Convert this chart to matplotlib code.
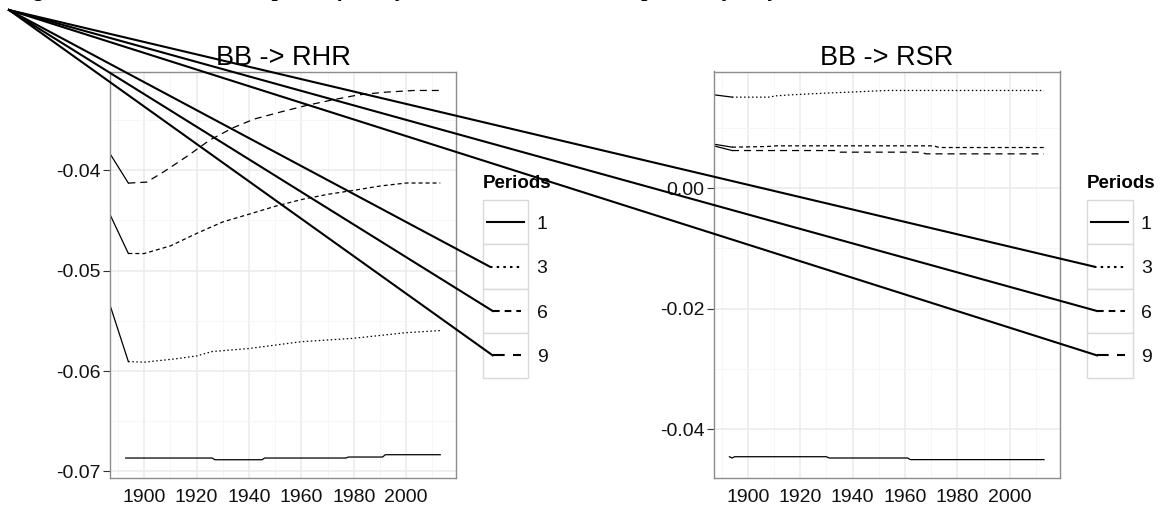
import matplotlib
matplotlib.use("Agg")
import matplotlib.pyplot as plt
from matplotlib.lines import Line2D
from matplotlib.patches import Rectangle
from matplotlib.ticker import MultipleLocator, FormatStrFormatter

plt.rcParams['font.family'] = ['Liberation Sans', 'DejaVu Sans']
plt.rcParams['axes.unicode_minus'] = False

# BB -> RHR
rhr_p1_years = [1893, 1926, 1927, 1945, 1946, 1977, 1978, 1991, 1992, 2013]
rhr_p1 = [-0.06867, -0.06867, -0.06884, -0.06884, -0.06867, -0.06867, -0.06857, -0.06857, -0.06834, -0.06834]
rhr_p3_years = [1887, 1894, 1900, 1912, 1920, 1926, 1940, 1960, 1980, 2000, 2013]
rhr_p3 = [-0.05343, -0.05906, -0.05912, -0.05879, -0.0585, -0.05806, -0.05776, -0.05708, -0.05674, -0.05618, -0.05597]
rhr_p6_years = [1887, 1894, 1900, 1910, 1920, 1930, 1940, 1950, 1960, 1970, 1980, 1990, 2000, 2013]
rhr_p6 = [-0.04441, -0.04829, -0.0483, -0.04754, -0.0463, -0.04515, -0.04438, -0.04359, -0.04292, -0.0424, -0.042, -0.04157, -0.04127, -0.04127]
rhr_p9_years = [1887, 1894, 1901, 1908, 1917, 1925, 1934, 1942, 1952, 1962, 1972, 1982, 1992, 2003, 2013]
rhr_p9 = [-0.03835, -0.04128, -0.04118, -0.04007, -0.0385, -0.037, -0.03576, -0.0349, -0.0342, -0.03354, -0.03298, -0.03248, -0.03222, -0.03205, -0.03205]

# BB -> RSR
rsr_p1_years = [1893, 1894, 1895, 1930, 1931, 1961, 1962, 2013]
rsr_p1 = [-0.04455, -0.04476, -0.04455, -0.04455, -0.04476, -0.04476, -0.04503, -0.04503]
rsr_p3_years = [1887, 1894, 1908, 1911, 1917, 1930, 1939, 1953, 2013]
rsr_p3 = [0.01549, 0.0151, 0.0151, 0.01532, 0.01549, 0.01577, 0.01593, 0.0162, 0.0162]
rsr_p6_years = [1887, 1894, 1907, 1911, 1971, 1973, 2013]
rsr_p6 = [0.0073, 0.0068, 0.0069, 0.00702, 0.00702, 0.00674, 0.00674]
rsr_p9_years = [1887, 1894, 1933, 1935, 1966, 1968, 2013]
rsr_p9 = [0.00702, 0.00624, 0.00624, 0.00597, 0.00597, 0.00569, 0.00569]

periods = ["1", "3", "6", "9"]
dash_styles = [None, (1.2, 2.0), (3.2, 2.4), (5.6, 4.0)]

W, H = 1166, 518
fig = plt.figure(figsize=(W / 100, H / 100), dpi=100)


def fx(px):
    return px / W


def fy(py):
    return 1 - py / H


def panel(left, title, series, ylim, major, minor):
    ax = fig.add_axes([fx(left), fy(477.7), fx(346), (477.7 - 71.5) / H])
    ax.set_xlim(1887, 2019)
    ax.set_ylim(*ylim)
    ax.xaxis.set_major_locator(MultipleLocator(20))
    ax.xaxis.set_minor_locator(MultipleLocator(10))
    ax.yaxis.set_major_locator(MultipleLocator(major))
    ax.yaxis.set_minor_locator(MultipleLocator(minor))
    ax.yaxis.set_major_formatter(FormatStrFormatter('%.2f'))
    ax.grid(which='major', color='#EBEBEB', lw=1.1)
    ax.grid(which='minor', color='#F6F6F6', lw=0.7)
    ax.set_axisbelow(True)
    for s in ax.spines.values():
        s.set_color('#8C8C8C')
        s.set_linewidth(1.0)
    ax.tick_params(axis='y', which='major', length=5, width=0.8, color='#333333',
                   labelsize=14, labelcolor='#111111', pad=1.5)
    ax.tick_params(axis='x', which='major', length=0, labelsize=14,
                   labelcolor='#111111', pad=8)
    ax.tick_params(which='minor', length=0)
    for (xs, ys), ds in zip(series, dash_styles):
        if ds is None:
            ax.plot(xs, ys, color='black', lw=0.9)
        else:
            ax.plot(xs[:2], ys[:2], color='black', lw=0.9)
            ax.plot(xs[1:], ys[1:], color='black', lw=0.9, dashes=ds)
    ax.set_title(title, fontsize=19.5, pad=4)
    return ax


panel(110, 'BB -> RHR',
      [(rhr_p1_years, rhr_p1), (rhr_p3_years, rhr_p3),
       (rhr_p6_years, rhr_p6), (rhr_p9_years, rhr_p9)],
      (-0.07063, -0.03016), 0.01, 0.005)
panel(713.7, 'BB -> RSR',
      [(rsr_p1_years, rsr_p1), (rsr_p3_years, rsr_p3),
       (rsr_p6_years, rsr_p6), (rsr_p9_years, rsr_p9)],
      (-0.04803, 0.01935), 0.02, 0.01)


# legends, ggplot style boxed keys
def legend(x0):
    key_w, key_h, top = 45.5, 44.4, 200
    fig.text(fx(x0), fy(184), 'Periods', fontsize=13.5, fontweight='bold',
             va='center', ha='left')
    for i, (lab, ds) in enumerate(zip(periods, dash_styles)):
        yt = top + i * key_h
        fig.add_artist(Rectangle((fx(x0), fy(yt + key_h)), fx(key_w), key_h / H,
                                 transform=fig.transFigure, facecolor='white',
                                 edgecolor='#D9D9D9', lw=1.0, zorder=5))
        yc = yt + key_h / 2
        if ds is None:
            ln = Line2D([fx(x0 + 4), fx(x0 + 41)], [fy(yc), fy(yc)],
                        transform=fig.transFigure, color='black', lw=1.5, zorder=6)
        else:
            start = x0 + 7 + (3 if i > 1 else 0)
            ln = Line2D([fx(start), fx(x0 + 38)], [fy(yc), fy(yc)],
                        transform=fig.transFigure, color='black', lw=1.5,
                        dashes=ds, zorder=6)
            # stray segment from the corner to the key
            fig.add_artist(Line2D([fx(9), fx(start)], [fy(10), fy(yc)],
                                  transform=fig.transFigure, color='black',
                                  lw=1.5, zorder=10))
        fig.add_artist(ln)
        fig.text(fx(x0 + 54), fy(yc + 2), lab, fontsize=14, va='center',
                 ha='left', color='#111111', zorder=6)


legend(482.7)
legend(1087)

# figure caption, cut off at the top edge in the original
fig.text(fx(14), fy(-4), 'Figure 7: Estimated total impulse of BB by horizon and time: the response to yearly shocks',
         family=['Liberation Serif', 'DejaVu Serif'], fontweight='bold',
         fontstyle='italic', fontsize=16, va='baseline', ha='left')

fig.savefig('out.png', dpi=100)
